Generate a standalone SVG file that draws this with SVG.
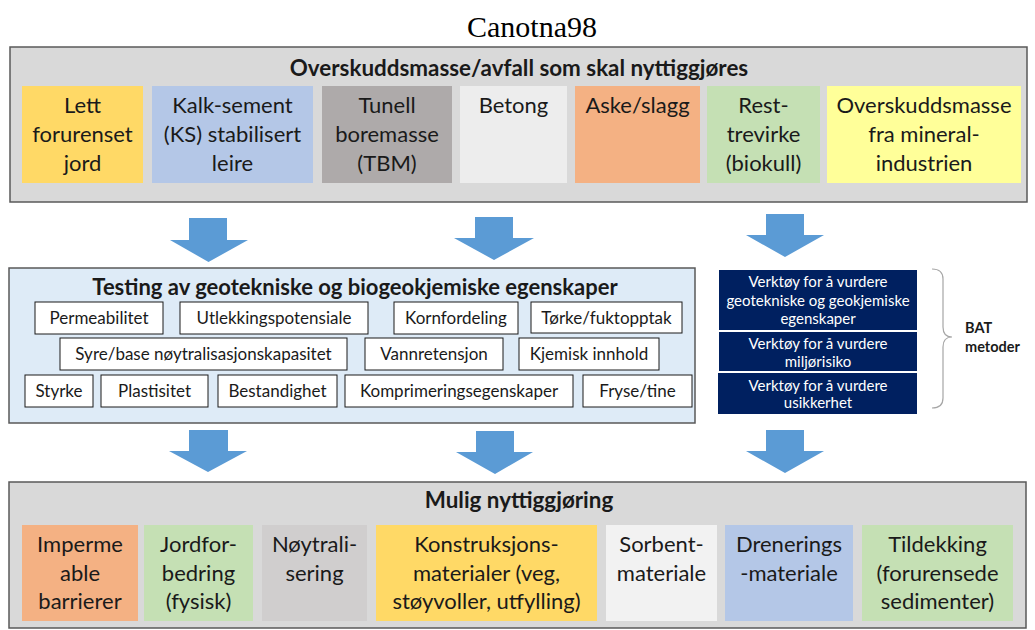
<svg xmlns="http://www.w3.org/2000/svg" width="1035" height="630" viewBox="0 0 1035 630">
<style>
.panel{fill:#d9d9d9;stroke:#595959;stroke-width:1.5}
.mid{fill:#deebf7;stroke:#595959;stroke-width:1.5}
.t{font-family:Lato,"Open Sans",sans-serif;fill:#1a1a1a;text-anchor:middle}
.big{font-size:22px}
.hdr{font-size:22.4px;font-weight:bold}
.hdr2{font-size:22px;font-weight:bold}
.sm{font-size:17px}
.box{fill:#ffffff;stroke:#1a1a1a;stroke-width:1}
.navy{fill:#002060}
.wt{font-family:Lato,"Open Sans",sans-serif;fill:#ffffff;text-anchor:middle;font-size:15px}
.arrow{fill:#5b9bd5}
</style>
<rect width="1035" height="630" fill="#ffffff"/>
<text x="532" y="37" font-family="'Liberation Serif',serif" font-size="30" text-anchor="middle" fill="#000">Canotna98</text>

<g id="top-panel">
<rect class="panel" x="10" y="47" width="1017" height="155"/>
<text class="t hdr" x="519" y="76">Overskuddsmasse/avfall som skal nyttiggjøres</text>
</g>
<g id="n-lett"><rect x="22" y="86" width="121" height="97" fill="#ffd966"/>
<text class="t big" x="82.5" y="113">Lett</text><text class="t big" x="82.5" y="142">forurenset</text><text class="t big" x="82.5" y="171">jord</text></g>
<g id="n-kalk"><rect x="152" y="86" width="161" height="97" fill="#b4c7e7"/>
<text class="t big" x="232.5" y="113">Kalk-sement</text><text class="t big" x="232.5" y="142">(KS) stabilisert</text><text class="t big" x="232.5" y="171">leire</text></g>
<g id="n-tunell"><rect x="322" y="86" width="130" height="97" fill="#aeaaaa"/>
<text class="t big" x="387" y="113">Tunell</text><text class="t big" x="387" y="142">boremasse</text><text class="t big" x="387" y="171">(TBM)</text></g>
<g id="n-betong"><rect x="460" y="86" width="107" height="97" fill="#ededed"/>
<text class="t big" x="513.5" y="113">Betong</text></g>
<g id="n-aske"><rect x="575" y="86" width="125" height="97" fill="#f4b183"/>
<text class="t big" x="637.5" y="113">Aske/slagg</text></g>
<g id="n-rest"><rect x="707" y="86" width="113" height="97" fill="#c5e0b4"/>
<text class="t big" x="763.5" y="113">Rest-</text><text class="t big" x="763.5" y="142">trevirke</text><text class="t big" x="763.5" y="171">(biokull)</text></g>
<g id="n-mineral"><rect x="827" y="86" width="194" height="97" fill="#ffff99"/>
<text class="t big" x="924" y="113">Overskuddsmasse</text><text class="t big" x="924" y="142">fra mineral-</text><text class="t big" x="924" y="171">industrien</text></g>

<g id="testing-panel">
<rect class="mid" x="9" y="268" width="686" height="155"/>
<text class="t hdr2" x="355" y="295">Testing av geotekniske og biogeokjemiske egenskaper</text>
</g>
<g id="t-perm"><rect class="box" x="35" y="302" width="128" height="32"/><text class="t sm" x="99" y="324">Permeabilitet</text></g>
<g id="t-utlek"><rect class="box" x="180" y="302" width="188" height="32"/><text class="t sm" x="274" y="324">Utlekkingspotensiale</text></g>
<g id="t-korn"><rect class="box" x="394" y="302" width="124" height="32"/><text class="t sm" x="456" y="324">Kornfordeling</text></g>
<g id="t-torke"><rect class="box" x="531" y="302" width="151" height="31"/><text class="t sm" x="606.5" y="324">Tørke/fuktopptak</text></g>
<g id="t-syre"><rect class="box" x="60" y="338" width="287" height="32"/><text class="t sm" x="203.5" y="360">Syre/base nøytralisasjonskapasitet</text></g>
<g id="t-vann"><rect class="box" x="365" y="338" width="138" height="32"/><text class="t sm" x="434" y="360">Vannretensjon</text></g>
<g id="t-kjem"><rect class="box" x="519" y="338" width="140" height="32"/><text class="t sm" x="589" y="360">Kjemisk innhold</text></g>
<g id="t-styrke"><rect class="box" x="25" y="375" width="68" height="32"/><text class="t sm" x="59" y="397">Styrke</text></g>
<g id="t-plast"><rect class="box" x="101" y="375" width="107" height="32"/><text class="t sm" x="154.5" y="397">Plastisitet</text></g>
<g id="t-best"><rect class="box" x="218" y="375" width="119" height="32"/><text class="t sm" x="277.5" y="397">Bestandighet</text></g>
<g id="t-kompr"><rect class="box" x="345" y="375" width="228" height="32"/><text class="t sm" x="459" y="397">Komprimeringsegenskaper</text></g>
<g id="t-fryse"><rect class="box" x="583" y="375" width="109" height="32"/><text class="t sm" x="637.5" y="397">Fryse/tine</text></g>

<g id="v-geo"><rect class="navy" x="719" y="270" width="198" height="60"/>
<text class="wt" x="818" y="287">Verktøy for å vurdere</text><text class="wt" x="818" y="306">geotekniske og geokjemiske</text><text class="wt" x="818" y="324">egenskaper</text></g>
<g id="v-milj"><rect class="navy" x="719" y="332" width="198" height="39"/>
<text class="wt" x="818" y="349">Verktøy for å vurdere</text><text class="wt" x="818" y="367">miljørisiko</text></g>
<g id="v-usik"><rect class="navy" x="718" y="373" width="199" height="41"/>
<text class="wt" x="818" y="391">Verktøy for å vurdere</text><text class="wt" x="818" y="408">usikkerhet</text></g>
<g id="bat">
<path d="M932,269 Q943,269 943,279 L943,327 Q943,337 952,337 Q943,337 943,347 L943,398 Q943,408 932,408" fill="none" stroke="#a6a6a6" stroke-width="1.2"/>
<text x="965" y="333" font-family="Lato,sans-serif" font-size="14.5" font-weight="bold" fill="#1a1a1a">BAT</text>
<text x="965" y="352" font-family="Lato,sans-serif" font-size="14.5" font-weight="bold" fill="#1a1a1a">metoder</text>
</g>

<g id="bottom-panel">
<rect class="panel" x="9" y="482" width="1017" height="146"/>
<text class="t hdr" x="519" y="508">Mulig nyttiggjøring</text>
</g>
<g id="u-imp"><rect x="22" y="525" width="116" height="96" fill="#f4b183"/>
<text class="t big" x="80" y="552">Imperme</text><text class="t big" x="80" y="581">able</text><text class="t big" x="80" y="609">barrierer</text></g>
<g id="u-jord"><rect x="144" y="525" width="109" height="96" fill="#c5e0b4"/>
<text class="t big" x="198.5" y="552">Jordfor-</text><text class="t big" x="198.5" y="581">bedring</text><text class="t big" x="198.5" y="609">(fysisk)</text></g>
<g id="u-noyt"><rect x="262" y="525" width="105" height="96" fill="#d0cece"/>
<text class="t big" x="314.5" y="552">Nøytrali-</text><text class="t big" x="314.5" y="581">sering</text></g>
<g id="u-konst"><rect x="376" y="525" width="221" height="96" fill="#ffd966"/>
<text class="t big" x="486.5" y="552">Konstruksjons-</text><text class="t big" x="486.5" y="581">materialer (veg,</text><text class="t big" x="486.5" y="609">støyvoller, utfylling)</text></g>
<g id="u-sorb"><rect x="606" y="525" width="111" height="96" fill="#f2f2f2"/>
<text class="t big" x="661.5" y="552">Sorbent-</text><text class="t big" x="661.5" y="581">materiale</text></g>
<g id="u-dren"><rect x="725" y="525" width="128" height="96" fill="#b4c7e7"/>
<text class="t big" x="789" y="552">Drenerings</text><text class="t big" x="789" y="581">-materiale</text></g>
<g id="u-tild"><rect x="862" y="525" width="151" height="96" fill="#c5e0b4"/>
<text class="t big" x="937.5" y="552">Tildekking</text><text class="t big" x="937.5" y="581">(forurensede</text><text class="t big" x="937.5" y="609">sedimenter)</text></g>

<g id="connectors">
<path class="arrow" d="M189,218 H227 V240 H248 L208.5,262 L170,240 H189 Z"/>
<path class="arrow" d="M475,217 H513 V238 H534 L494,260 L454,238 H475 Z"/>
<path class="arrow" d="M766,214 H804 V235 H824 L785,257 L746,235 H766 Z"/>
<path class="arrow" d="M189,430 H228 V451 H247 L208,472 L169,451 H189 Z"/>
<path class="arrow" d="M476,431 H514 V452 H533 L495,474 L456,452 H476 Z"/>
<path class="arrow" d="M766,430 H804 V451 H824 L785,473 L746,451 H766 Z"/>
</g>
</svg>
